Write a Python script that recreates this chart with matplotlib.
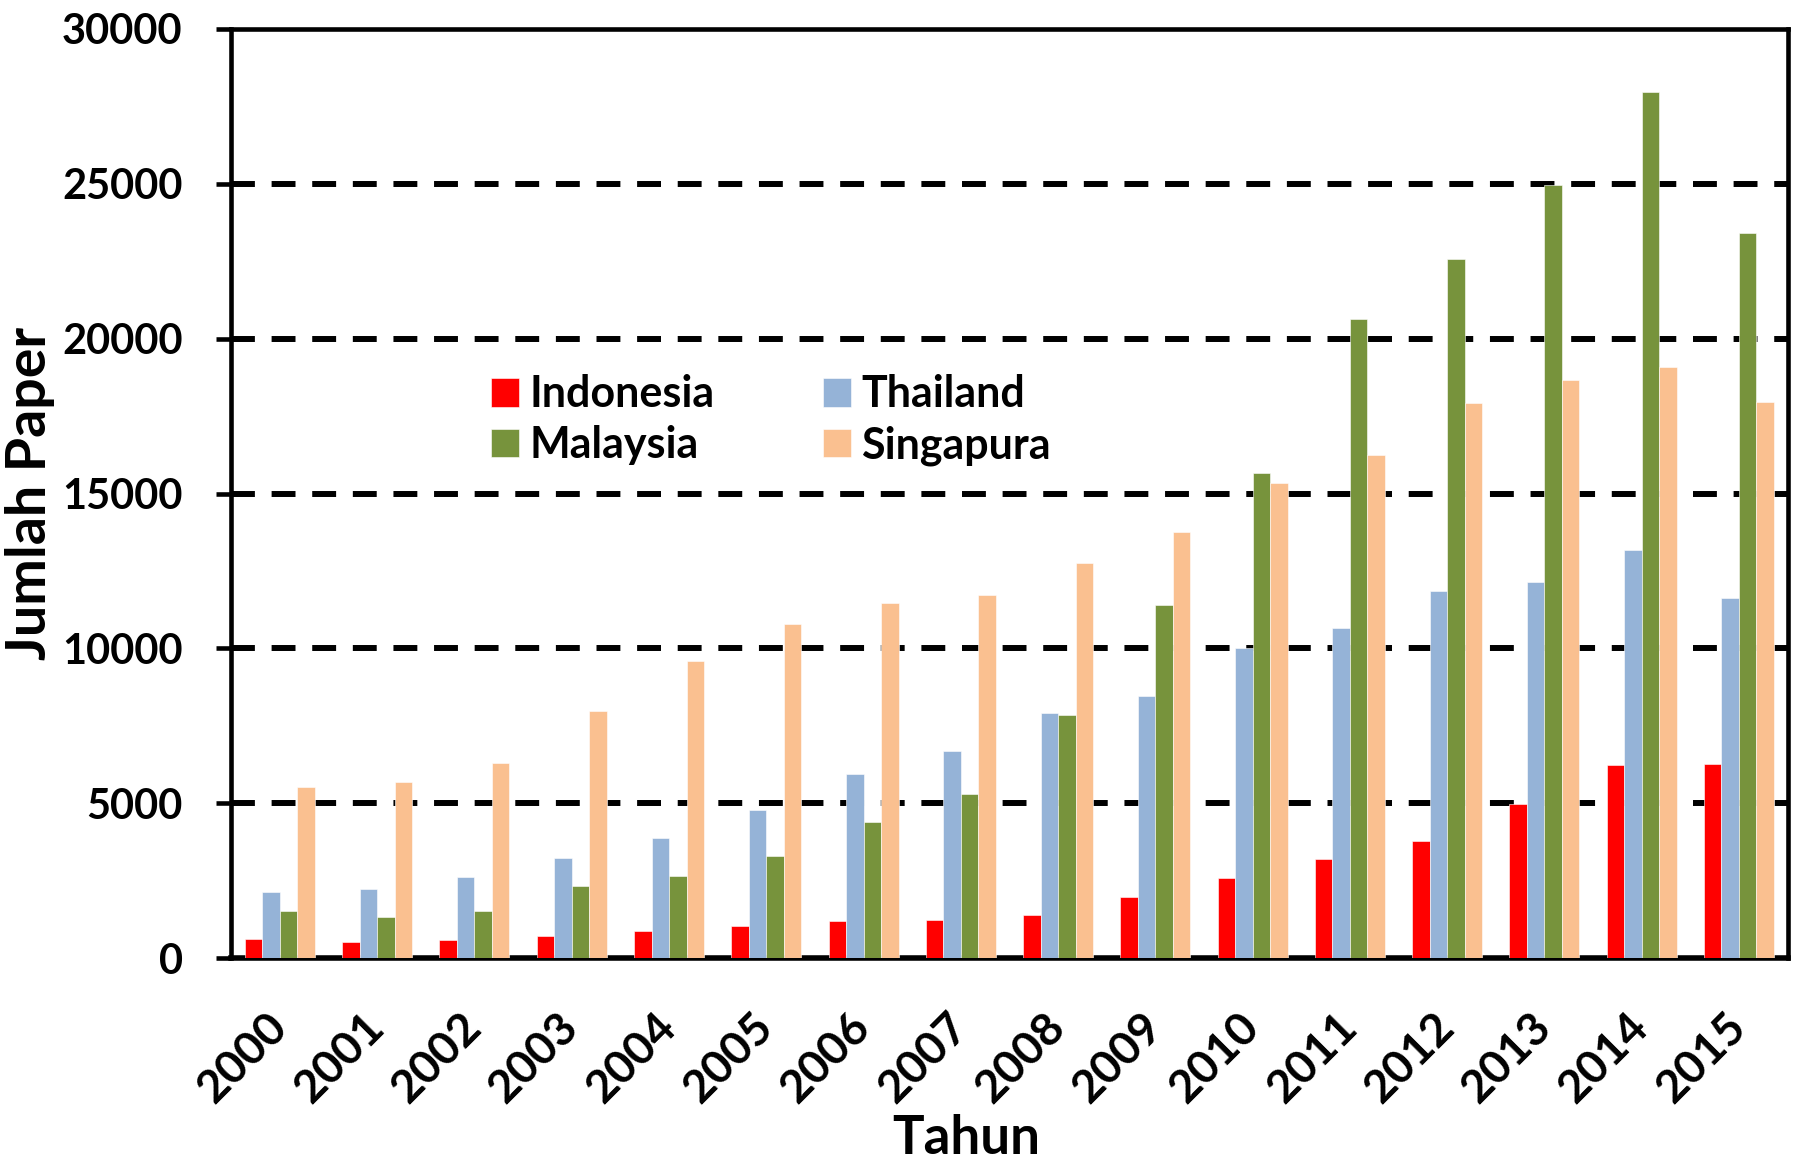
import numpy as np
import matplotlib
matplotlib.use("Agg")
import matplotlib.pyplot as plt

plt.rcParams['font.family'] = ['Lato', 'DejaVu Sans']
plt.rcParams['font.weight'] = 'bold'

# Data: jumlah paper per tahun
tahun = ['2000', '2001', '2002', '2003', '2004', '2005', '2006', '2007',
         '2008', '2009', '2010', '2011', '2012', '2013', '2014', '2015']
indonesia = [620, 530, 575, 730, 880, 1040, 1200, 1230,
             1390, 1980, 2590, 3190, 3770, 4990, 6240, 6280]
thailand = [2140, 2220, 2610, 3230, 3880, 4770, 5950, 6700,
            7900, 8460, 10000, 10670, 11850, 12160, 13190, 11620]
malaysia = [1510, 1315, 1510, 2330, 2640, 3290, 4390, 5300,
            7850, 11390, 15670, 20630, 22560, 24970, 27950, 23420]
singapura = [5530, 5685, 6300, 7990, 9600, 10780, 11470, 11740,
             12760, 13750, 15330, 16260, 17920, 18660, 19080, 17960]

series = [('Indonesia', indonesia, '#FF0000'),
          ('Thailand', thailand, '#95B3D7'),
          ('Malaysia', malaysia, '#77933C'),
          ('Singapura', singapura, '#FAC090')]

fig = plt.figure(figsize=(17.93, 11.6), dpi=100)
ax = fig.add_axes([0.129, 0.174, 0.868, 0.801])

x = np.arange(len(tahun))
w = 0.18
bars = []
for i, (nama, data, warna) in enumerate(series):
    b = ax.bar(x + (i - 1.5) * w, data, width=w, color=warna, label=nama,
               zorder=3, edgecolor='white', linewidth=0.4)
    bars.append(b)

# garis grid putus-putus
for yv in [5000, 10000, 15000, 20000, 25000]:
    ax.axhline(yv, color='black', linewidth=4.3, dashes=(4, 2.8), zorder=1)

ax.set_xlim(-0.5, len(tahun) - 0.5)
ax.set_ylim(0, 30000)
ax.set_yticks(np.arange(0, 30001, 5000))
ax.tick_params(axis='y', direction='out', length=11, width=3.3, pad=24, labelsize=30)
ax.tick_params(axis='x', length=0, pad=45, labelsize=33)
ax.set_xticks(x)
ax.set_xticklabels(tahun, rotation=45, ha='right', va='center', rotation_mode='anchor')
for lab in ax.get_yticklabels() + ax.get_xticklabels():
    lab.set_fontweight('bold')

for s in ax.spines.values():
    s.set_linewidth(3.3)
ax.spines['bottom'].set_linewidth(4)

ax.set_ylabel('Jumlah Paper', fontsize=40, fontweight='bold')
ax.set_xlabel('Tahun', fontsize=38, fontweight='bold')
ax.yaxis.set_label_coords(-0.113, 0.5)
ax.xaxis.set_label_coords(0.472, -0.168)

# legenda: baris pertama Indonesia/Thailand, baris kedua Malaysia/Singapura
urutan = [0, 2, 1, 3]
ax.legend([bars[k] for k in urutan], [series[k][0] for k in urutan],
          ncol=2, loc='upper left', bbox_to_anchor=(0.142, 0.67), frameon=False,
          handlelength=0.65, handleheight=0.65, handletextpad=0.25,
          columnspacing=2.5, labelspacing=0.25, prop={'weight': 'bold', 'size': 31})

fig.savefig('out.png', dpi=100)
